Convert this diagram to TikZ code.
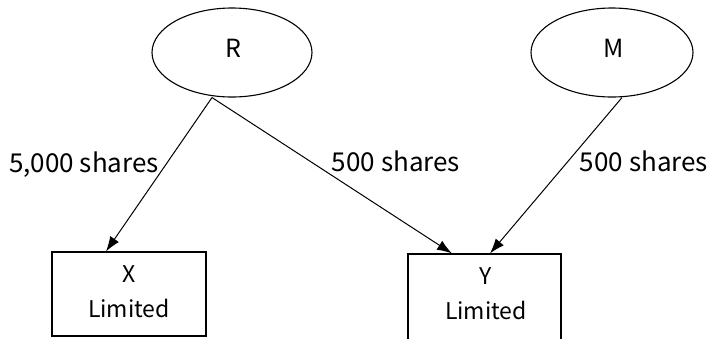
\documentclass[tikz,border=0pt]{standalone}
\usepackage{fontspec}
\setmainfont{Noto Sans CJK SC}
\usetikzlibrary{shapes.geometric,arrows.meta,calc}
\begin{document}
\begin{tikzpicture}[x=1pt,y=-1pt,
  owner/.style={draw,ellipse,line width=1.1pt,minimum width=160pt,minimum height=89pt,inner sep=0pt},
  ownertext/.style={anchor=base,inner sep=0pt,font=\fontsize{25}{30}\selectfont},
  company/.style={draw,rectangle,line width=1.1pt,minimum width=154pt,inner sep=0pt},
  ctext/.style={anchor=base,inner sep=0pt,font=\fontsize{23}{30}\selectfont},
  lbl/.style={anchor=base,inner sep=0pt,font=\fontsize{26}{30}\selectfont},
  link/.style={line width=1pt,-{Latex[length=15pt,width=10.5pt]}}]
\useasboundingbox (0,0) rectangle (711,338);
\clip (0,0) rectangle (711,338);
% owners
\node[owner] (R) at (232,52.5) {};
\node[owner,minimum width=162pt] (M) at (612,52.5) {};
\node[ownertext] (Rt) at (233,57) {R};
\node[ownertext] (Mt) at (614,57) {M};
% companies
\node[company,minimum height=84pt] (X) at (129,294) {};
\node[company,minimum width=153pt,minimum height=91pt] (Y) at (484.5,299.5) {};
\node[ctext] (Xa) at (129,282) {X};
\node[ctext] (Xb) at (129,317) {Limited};
\node[ctext] (Ya) at (486,284) {Y};
\node[ctext] (Yb) at (486,319) {Limited};
% connectors
\coordinate (Rs) at ($(R.south)+(-20,0)$);
\coordinate (Ms) at ($(M.south)+(10,0)$);
\draw[link] (Rs) -- ($(X.north)+(-23,0)$);
\draw[link] (Rs) -- ($(Y.north)+(-32.5,0)$);
\draw[link] (Ms) -- ($(Y.north)+(5.5,0)$);
% labels
\node[lbl] (l1) at (84,172) {5,000 shares};
\node[lbl] (l2) at (396,171) {500 shares};
\node[lbl] (l3) at (644,171) {500 shares};
\end{tikzpicture}
\end{document}
